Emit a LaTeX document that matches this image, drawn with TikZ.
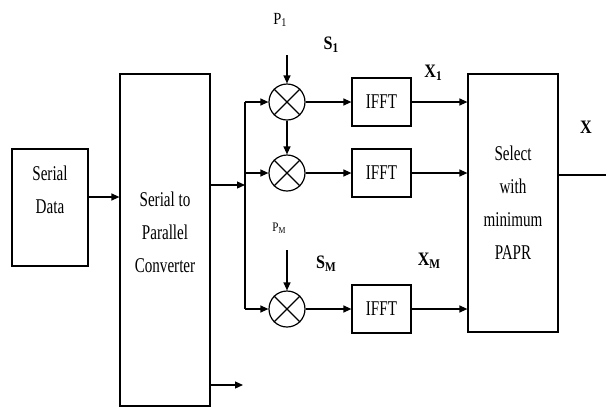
\documentclass[tikz,border=0pt]{standalone}
\usepackage{graphicx}
\usepackage{fontspec}
\setmainfont{Liberation Serif}[FakeStretch=0.72]
\newfontfamily\labelfont{Liberation Serif}[FakeStretch=0.85]
\newcommand\lsub[1]{\raisebox{-0.3ex}{\scalebox{0.7}{#1}}}
\usetikzlibrary{arrows.meta}

\tikzset{
  box/.style={draw, line width=1.2pt, inner sep=0pt},
  mixer/.style={draw, circle, line width=1.2pt, minimum size=36pt, inner sep=0pt},
  arr/.style={line width=1.2pt, -{Triangle[length=8pt,width=7pt]}},
  plain/.style={line width=1.2pt},
  txt/.style={align=center, font=\fontsize{21}{33}\selectfont, inner sep=0pt},
  lbl/.style={font=\labelfont\bfseries\fontsize{19}{21}\selectfont, inner sep=0pt},
  plbl/.style={font=\labelfont\fontsize{17}{19}\selectfont, inner sep=0pt}
}

\begin{document}
\begin{tikzpicture}[x=1pt, y=-1pt]
  \useasboundingbox (0,0) rectangle (606,408);

  % main blocks
  \node[box, minimum width=76pt, minimum height=117pt] (sd) at (50,207.5) {};
  \node[txt] at (50,190) {Serial\\Data};

  \node[box, minimum width=90pt, minimum height=332pt] (sp) at (165,240) {};
  \node[txt] at (165,232) {Serial to\\Parallel\\Converter};

  \node[box, minimum width=90pt, minimum height=258pt] (sel) at (513,203) {};
  \node[txt] at (513,203) {Select\\with\\minimum\\PAPR};

  % mixers
  \node[mixer] (m1) at (287,102) {};
  \node[mixer] (m2) at (287,173) {};
  \node[mixer] (m3) at (287,309) {};
  \foreach \m in {m1,m2,m3} {
    \draw[plain] (\m.north west) -- (\m.south east);
    \draw[plain] (\m.north east) -- (\m.south west);
  }

  % IFFT blocks
  \node[box, minimum width=59pt, minimum height=48pt, txt] (f1) at (381.5,102) {IFFT};
  \node[box, minimum width=59pt, minimum height=48pt, txt] (f2) at (381.5,173) {IFFT};
  \node[box, minimum width=59pt, minimum height=48pt, txt] (f3) at (381.5,309) {IFFT};

  % bus and helper points
  \coordinate (bt) at (245,102);
  \coordinate (bb) at (245,309);
  \coordinate (spo) at (sp.east |- 0,185);
  \coordinate (spi) at (245,185);
  \coordinate (spb) at (sp.east |- 0,385);
  \coordinate (spbe) at (243,385);
  \coordinate (p1s) at (287,55);
  \coordinate (pms) at (287,250);
  \coordinate (xo) at (sel.east |- 0,175);
  \coordinate (xe) at (606,175);

  % connectors
  \draw[arr] (sd.east |- 0,197) -- (sp.west |- 0,197);
  \draw[arr] (spo) -- (spi);
  \draw[arr] (spb) -- (spbe);
  \draw[plain] (bt) -- (bb);
  \draw[arr] (bt) -- (m1.west);
  \draw[arr] (245,173) -- (m2.west);
  \draw[arr] (bb) -- (m3.west);
  \draw[arr] (p1s) -- (m1.north);
  \draw[arr] (m1.south) -- (m2.north);
  \draw[arr] (pms) -- (m3.north);
  \draw[arr] (m1.east) -- (f1.west);
  \draw[arr] (m2.east) -- (f2.west);
  \draw[arr] (m3.east) -- (f3.west);
  \draw[arr] (f1.east) -- (sel.west |- f1.east);
  \draw[arr] (f2.east) -- (sel.west |- f2.east);
  \draw[arr] (f3.east) -- (sel.west |- f3.east);
  \draw[plain] (xo) -- (xe);

  % labels
  \node[plbl] at (280,20) {P\lsub{1}};
  \node[lbl] at (331,45) {S\lsub{1}};
  \node[lbl] at (433,73) {X\lsub{1}};
  \node[font=\labelfont\fontsize{13}{15}\selectfont, inner sep=0pt] at (279,228) {P\lsub{M}};
  \node[lbl] at (326,264) {S\lsub{M}};
  \node[lbl] at (429,261) {X\lsub{M}};
  \node[lbl] at (586,127) {X};
\end{tikzpicture}
\end{document}
